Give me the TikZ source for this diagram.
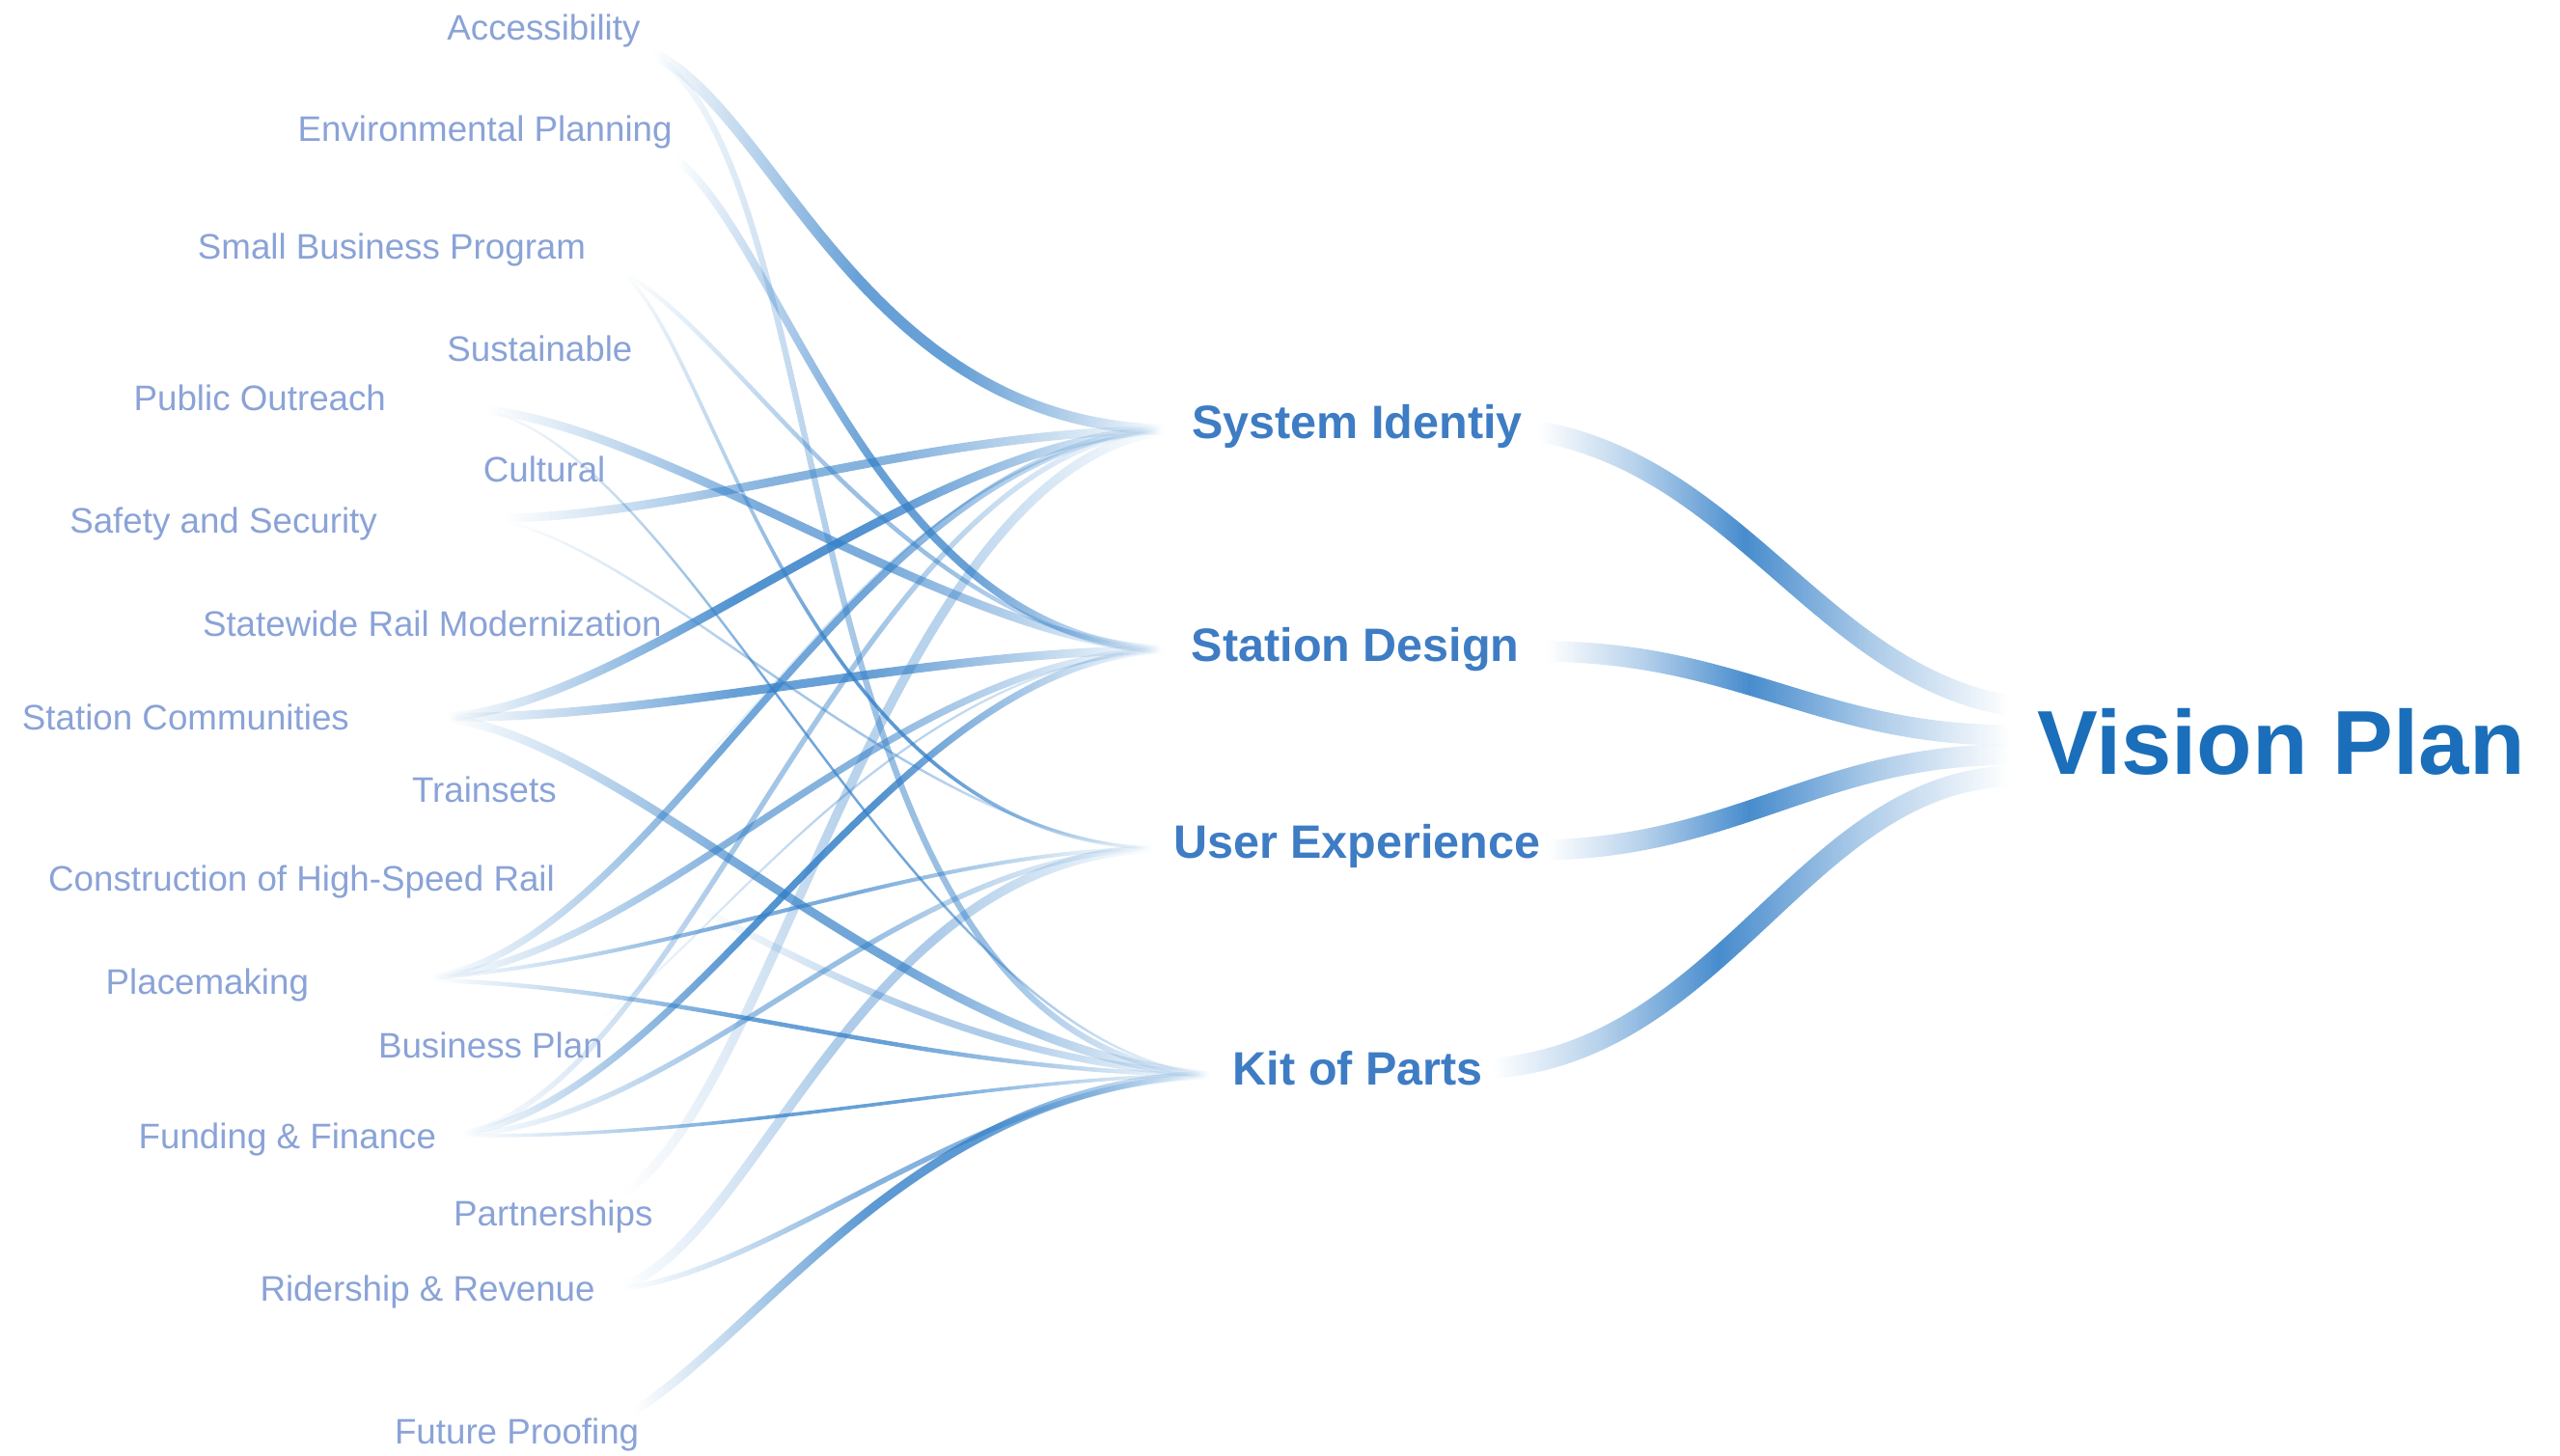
\documentclass[tikz,border=0pt]{standalone}
\usepackage{fontspec}
\setmainfont{Liberation Sans}
\usetikzlibrary{fadings,backgrounds}
\definecolor{topicblue}{RGB}{138,163,215}
\definecolor{hubblue}{RGB}{62,124,196}
\definecolor{visionblue}{RGB}{27,110,185}
\definecolor{ribblue}{RGB}{52,128,200}
\tikzset{every picture/.style={line width=0.75pt}}

% fades out towards both ends of a ribbon
\begin{tikzfadingfrompicture}[name=ribfade]
  \shade[left color=transparent!100,right color=transparent!55] (-25bp,-25bp) rectangle (-16bp,25bp);
  \shade[left color=transparent!55,right color=transparent!0] (-16bp,-25bp) rectangle (-6bp,25bp);
  \fill[transparent!0] (-6bp,-25bp) rectangle (3bp,25bp);
  \shade[left color=transparent!0,right color=transparent!50] (3bp,-25bp) rectangle (13bp,25bp);
  \shade[left color=transparent!50,right color=transparent!100] (13bp,-25bp) rectangle (22bp,25bp);
\end{tikzfadingfrompicture}
\begin{tikzfadingfrompicture}[name=visionfade]
  \shade[left color=transparent!100,right color=transparent!60] (-25bp,-25bp) rectangle (-15bp,25bp);
  \shade[left color=transparent!60,right color=transparent!0] (-15bp,-25bp) rectangle (-4bp,25bp);
  \shade[left color=transparent!0,right color=transparent!55] (-4bp,-25bp) rectangle (9bp,25bp);
  \shade[left color=transparent!55,right color=transparent!100] (9bp,-25bp) rectangle (23bp,25bp);
\end{tikzfadingfrompicture}

\tikzset{
  topic/.style={text=topicblue,font=\fontsize{16.2}{18}\selectfont,inner sep=0pt,anchor=base west},
  hub/.style={text=hubblue,font=\bfseries\fontsize{21.4}{24}\selectfont,inner sep=0pt,anchor=base},
  vision/.style={text=visionblue,font=\bfseries\fontsize{41.5}{46}\selectfont,inner sep=0pt,anchor=base},
  ribbon/.style={draw=ribblue,line width=#1,path fading=ribfade},
  flow/.style={draw=ribblue,line width=9.5pt,path fading=visionfade,draw opacity=.9}
}

\begin{document}
\begin{tikzpicture}[x=0.75pt,y=0.75pt,yscale=-1,xscale=1]
\useasboundingbox (0,0) rectangle (1560,887);

% Topics
\node[topic] (acc) at (272,24.5) {Accessibility};
\node[topic] (env) at (181,86) {Environmental Planning};
\node[topic] (sbp) at (120,158) {Small Business Program};
\node[topic] (sus) at (272,220.5) {Sustainable};
\node[topic] (pub) at (81,250) {Public Outreach};
\node[topic] (cul) at (294,294) {Cultural};
\node[topic] (saf) at (42,325) {Safety and Security};
\node[topic] (srm) at (123,388) {Statewide Rail Modernization};
\node[topic] (stc) at (13,445) {Station Communities};
\node[topic] (trn) at (250.6,489) {Trainsets};
\node[topic] (hsr) at (29,543) {Construction of High-Speed Rail};
\node[topic] (plc) at (64,606) {Placemaking};
\node[topic] (bpl) at (230,645) {Business Plan};
\node[topic] (fin) at (84,700) {Funding \& Finance};
\node[topic] (prt) at (276,747) {Partnerships};
\node[topic] (rid) at (158,793) {Ridership \& Revenue};
\node[topic] (fut) at (240,880) {Future Proofing};

% Hubs
\node[hub] (sid) at (827,267) {System Identiy};
\node[hub] (sdes) at (826,403) {Station Design};
\node[hub] (ux) at (827,523) {User Experience};
\node[hub] (kit) at (827.5,661) {Kit of Parts};
\node[vision] (vis) at (1390,472) {Vision Plan};

% Ribbon ends
\coordinate (acc-r) at (392,30);
\coordinate (env-r) at (405,92);
\coordinate (sbp-r) at (372,163);
\coordinate (pub-r) at (287,249);
\coordinate (saf-r) at (298,316);
\coordinate (stc-r) at (262,437);
\coordinate (trn-r) at (412,474);
\coordinate (hsr-r) at (418,550);
\coordinate (plc-r) at (252,597);
\coordinate (bpl-r) at (352,628);
\coordinate (fin-r) at (272,692);
\coordinate (prt-r) at (372,731);
\coordinate (rid-r) at (371,786);
\coordinate (fut-r) at (378,865);
\coordinate (sid-in) at (716,262);
\coordinate (sdes-in) at (716,396);
\coordinate (ux-in) at (710,517);
\coordinate (kit-in) at (745,655);
\coordinate (sid-out) at (938,263);
\coordinate (sdes-out) at (943,397);
\coordinate (ux-out) at (943,518);
\coordinate (kit-out) at (910,651);
\coordinate (vis-a) at (1224,430);
\coordinate (vis-b) at (1224,448);
\coordinate (vis-c) at (1224,460);
\coordinate (vis-d) at (1224,473);

\begin{scope}[on background layer]
%Ribbons into System Identiy
\draw[ribbon=5pt,draw opacity=.75] (acc-r) .. controls (472,60) and (522,262) .. (sid-in);
\draw[ribbon=4pt,draw opacity=.6] (saf-r) .. controls (420,316) and (560,262) .. (sid-in);
\draw[ribbon=4pt,draw opacity=.85] (stc-r) .. controls (380,440) and (560,262) .. (sid-in);
\draw[ribbon=1pt,draw opacity=.4] (trn-r) .. controls (470,440) and (560,268) .. (sid-in);
\draw[ribbon=3.2pt,draw opacity=.7] (plc-r) .. controls (400,590) and (520,262) .. (sid-in);
\draw[ribbon=2.4pt,draw opacity=.45] (fin-r) .. controls (420,680) and (520,262) .. (sid-in);
\draw[ribbon=4.2pt,draw opacity=.35] (prt-r) .. controls (470,690) and (540,275) .. (sid-in);
%Ribbons into Station Design
\draw[ribbon=3.6pt,draw opacity=.75] (env-r) .. controls (475,132) and (530,396) .. (sdes-in);
\draw[ribbon=2pt,draw opacity=.5] (sbp-r) .. controls (442,188) and (552,396) .. (sdes-in);
\draw[ribbon=4pt,draw opacity=.65] (pub-r) .. controls (400,255) and (590,396) .. (sdes-in);
\draw[ribbon=4pt,draw opacity=.75] (stc-r) .. controls (400,440) and (560,396) .. (sdes-in);
\draw[ribbon=3.2pt,draw opacity=.6] (plc-r) .. controls (400,590) and (540,396) .. (sdes-in);
\draw[ribbon=1pt,draw opacity=.35] (bpl-r) .. controls (420,600) and (540,400) .. (sdes-in);
\draw[ribbon=3.2pt,draw opacity=.85] (fin-r) .. controls (420,680) and (540,396) .. (sdes-in);
%Ribbons into User Experience
\draw[ribbon=1.6pt,draw opacity=.8] (sbp-r) .. controls (432,183) and (480,517) .. (ux-in);
\draw[ribbon=1.1pt,draw opacity=.45] (saf-r) .. controls (400,330) and (560,517) .. (ux-in);
\draw[ribbon=1.8pt,draw opacity=.65] (plc-r) .. controls (420,585) and (560,517) .. (ux-in);
\draw[ribbon=2.4pt,draw opacity=.5] (fin-r) .. controls (420,690) and (540,517) .. (ux-in);
\draw[ribbon=4.2pt,draw opacity=.4] (rid-r) .. controls (460,770) and (520,517) .. (ux-in);
%Ribbons into Kit of Parts
\draw[ribbon=2.8pt,draw opacity=.5] (acc-r) .. controls (520,90) and (470,650) .. (kit-in);
\draw[ribbon=1.1pt,draw opacity=.7] (pub-r) .. controls (420,260) and (560,650) .. (kit-in);
\draw[ribbon=4pt,draw opacity=.7] (stc-r) .. controls (380,440) and (560,650) .. (kit-in);
\draw[ribbon=3.2pt,draw opacity=.4] (hsr-r) .. controls (500,590) and (600,650) .. (kit-in);
\draw[ribbon=2pt,draw opacity=.75] (plc-r) .. controls (420,600) and (560,655) .. (kit-in);
\draw[ribbon=1.6pt,draw opacity=.75] (fin-r) .. controls (450,695) and (600,655) .. (kit-in);
\draw[ribbon=2.4pt,draw opacity=.6] (rid-r) .. controls (470,780) and (600,655) .. (kit-in);
\draw[ribbon=4pt,draw opacity=.8] (fut-r) .. controls (460,820) and (560,655) .. (kit-in);
%Flows into Vision Plan
\draw[flow] (sid-out) .. controls (1060,285) and (1110,410) .. (vis-a);
\draw[flow] (sdes-out) .. controls (1060,398) and (1110,448) .. (vis-b);
\draw[flow] (ux-out) .. controls (1060,515) and (1110,460) .. (vis-c);
\draw[flow] (kit-out) .. controls (1050,640) and (1100,478) .. (vis-d);
\end{scope}
\end{tikzpicture}
\end{document}
